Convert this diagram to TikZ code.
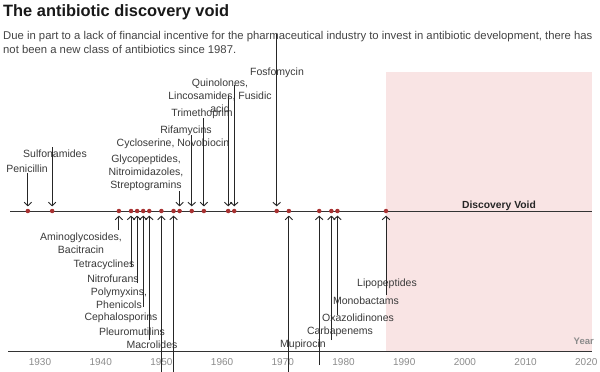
\documentclass[tikz,border=0pt]{standalone}
\usepackage{fontspec}
\setmainfont{Liberation Sans}
\usetikzlibrary{arrows.meta}
\definecolor{dotc}{HTML}{A83232}
\definecolor{linec}{HTML}{333333}
\definecolor{labc}{HTML}{3A3A3A}
\definecolor{voidc}{HTML}{F9E4E4}
\definecolor{yearc}{HTML}{8C8C8C}
\definecolor{subc}{HTML}{444444}
\tikzset{
  evtdot/.style={circle,fill=dotc,inner sep=0pt,minimum size=4.5pt},
  lab/.style={text=labc,font=\fontsize{10.5}{13}\selectfont,inner sep=0pt,align=center},
  arr/.style={draw=black!85,line width=0.9pt,-{Straight Barb[length=3.5pt,width=7.5pt]},shorten >=2.2pt},
  axisline/.style={draw=linec,line width=0.9pt},
  yearlab/.style={text=yearc,font=\fontsize{10}{11}\selectfont,inner sep=0pt},
}
\begin{document}
\begin{tikzpicture}[x=1pt,y=-1pt]
\useasboundingbox (0,0) rectangle (600,372);
\fill[white] (0,0) rectangle (600,372);
% discovery void area
\fill[voidc] (386,72) rectangle (592,351);
% title and subtitle
\node[anchor=west,inner sep=0pt,font=\fontsize{16.4}{18}\selectfont\bfseries,text=black!90] (title) at (3,12) {The antibiotic discovery void};
\node[anchor=north west,inner sep=0pt,align=left,text=subc,font=\fontsize{11.3}{14.5}\selectfont] (sub) at (3,31) {Due in part to a lack of financial incentive for the pharmaceutical industry to invest in antibiotic development, there has\\not been a new class of antibiotics since 1987.};
% axes
\coordinate (axL) at (10,211);
\coordinate (axR) at (592,211);
\draw[axisline] (axL) -- (axR);
\coordinate (baL) at (8,351);
\coordinate (baR) at (592,351);
\draw[axisline] (baL) -- (baR);
% year labels
\foreach \yr in {1930,1940,...,2020}
  \node[yearlab] (y\yr) at ({40+(\yr-1930)*6.07},362) {\yr};
\node[yearlab,anchor=east,font=\fontsize{9.5}{11}\selectfont\bfseries] (yearttl) at (594,341) {Year};
\node[inner sep=0pt,font=\fontsize{10.3}{12}\selectfont\bfseries,text=black!85] (void) at (499,206) {Discovery Void};
% labels above
\node[lab] (lPen) at (27,169) {Penicillin};
\node[lab] (lSul) at (55,154) {Sulfonamides};
\node[lab] (lGly) at (146,173) {Glycopeptides,\\Nitroimidazoles,\\Streptogramins};
\node[lab] (lCyc) at (173,144) {Cycloserine, Novobiocin};
\node[lab] (lRif) at (186,131) {Rifamycins};
\node[lab] (lTri) at (202,114) {Trimethoprim};
\node[lab] (lQui) at (220,96) {Quinolones,\\Lincosamides, Fusidic\\acid};
\node[lab] (lFos) at (277,73) {Fosfomycin};
% labels below
\node[lab] (lAmi) at (81,243.5) {Aminoglycosides,\\Bacitracin};
\node[lab] (lTet) at (104,265) {Tetracyclines};
\node[lab] (lNit) at (113,279) {Nitrofurans};
\node[lab] (lPol) at (119,298.5) {Polymyxins,\\Phenicols};
\node[lab] (lCep) at (121,318) {Cephalosporins};
\node[lab] (lPle) at (132,332) {Pleuromutilins};
\node[lab] (lMac) at (152,345) {Macrolides};
\node[lab] (lMup) at (303,345) {Mupirocin};
\node[lab] (lCar) at (340,332) {Carbapenems};
\node[lab] (lOxa) at (358,318) {Oxazolidinones};
\node[lab] (lMon) at (366,301) {Monobactams};
\node[lab] (lLip) at (387,284) {Lipopeptides};
% dots
\foreach \yr in {1928,1932,1943,1945,1946,1947,1948,1950,1952,1953,1955,1957,1961,1962,1969,1971,1976,1978,1979,1987}
  \node[evtdot] (d\yr) at ({40+(\yr-1930)*6.07},211) {};
% arrows from above
\foreach \yr/\ys in {1928/173,1932/147,1953/191,1955/135,1957/118,1961/96,1962/85,1969/34}{
  \coordinate (s\yr) at (d\yr |- 0,\ys);
  \draw[arr] (s\yr) -- (d\yr);
}
% arrows from below
\foreach \yr/\ys in {1943/230,1945/267,1946/283,1947/307,1948/340,1950/372,1952/372,1971/372,1976/365,1978/340,1979/315,1987/295}{
  \coordinate (s\yr) at (d\yr |- 0,\ys);
  \draw[arr] (s\yr) -- (d\yr);
}
\end{tikzpicture}
\end{document}
